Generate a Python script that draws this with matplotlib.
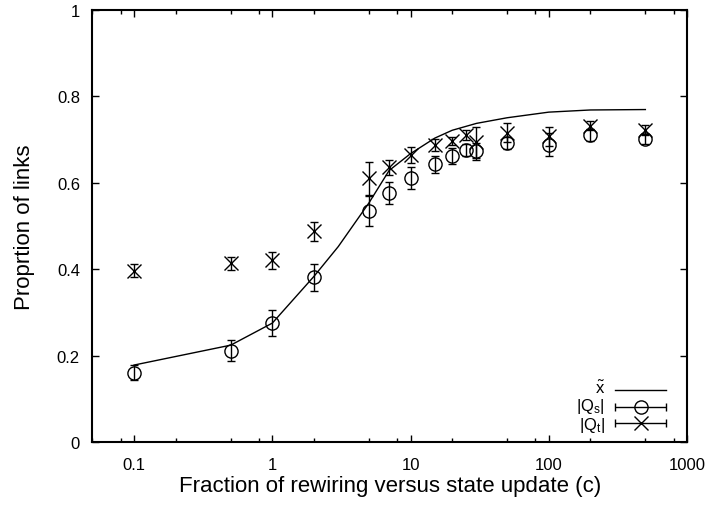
import numpy as np
import matplotlib
matplotlib.use('Agg')
import matplotlib.pyplot as plt
from matplotlib.ticker import LogLocator, FixedLocator, FixedFormatter, NullFormatter

plt.rcParams['font.family'] = ['Liberation Sans', 'DejaVu Sans']
plt.rcParams['mathtext.fontset'] = 'custom'
plt.rcParams['mathtext.rm'] = 'Liberation Sans'
plt.rcParams['mathtext.it'] = 'Liberation Sans'
plt.rcParams['mathtext.default'] = 'regular'

### data ###
c_points = [0.1, 0.5, 1, 2, 5, 7, 10, 15, 20, 25, 30, 50, 100, 200, 500]
q_s = [0.160, 0.211, 0.275, 0.381, 0.535, 0.576, 0.611, 0.642, 0.661, 0.675, 0.672, 0.692, 0.688, 0.710, 0.701]
q_s_err = [0.017, 0.024, 0.030, 0.031, 0.035, 0.026, 0.025, 0.020, 0.019, 0.014, 0.020, 0.014, 0.026, 0.013, 0.012]
q_t = [0.396, 0.413, 0.420, 0.487, 0.610, 0.635, 0.664, 0.687, 0.697, 0.710, 0.693, 0.715, 0.707, 0.732, 0.722]
q_t_err = [0.015, 0.016, 0.020, 0.022, 0.038, 0.017, 0.019, 0.014, 0.009, 0.012, 0.036, 0.022, 0.022, 0.011, 0.012]

c_line = [0.1, 0.5, 1, 2, 3, 5, 7, 10, 15, 20, 30, 50, 100, 200, 500]
x_tilde = [0.178, 0.224, 0.275, 0.383, 0.452, 0.553, 0.628, 0.667, 0.703, 0.721, 0.737, 0.750, 0.763, 0.768, 0.769]

x_ticks = [0.1, 1, 10, 100, 1000]
x_tick_labels = ['0.1', '1', '10', '100', '1000']
y_ticks = [0, 0.2, 0.4, 0.6, 0.8, 1]
y_tick_labels = ['0', '0.2', '0.4', '0.6', '0.8', '1']

fig = plt.figure(figsize=(7.13, 5.06), dpi=100)
ax = fig.add_axes([0.1297, 0.1245, 0.9635 - 0.1297, 0.9789 - 0.1245])

lw = 1.0
ax.plot(c_line, x_tilde, color='black', lw=lw)
ax.errorbar(c_points, q_s, yerr=q_s_err, fmt='o', mfc='none', mec='black', ms=9.5, mew=lw,
            ecolor='black', elinewidth=lw, capsize=3, capthick=lw)
ax.errorbar(c_points, q_t, yerr=q_t_err, fmt='x', color='black', ms=9.5, mew=lw,
            ecolor='black', elinewidth=lw, capsize=3, capthick=lw)

ax.set_xscale('log')
ax.set_xlim(0.05, 1000)
ax.set_ylim(0, 1)
ax.xaxis.set_major_locator(FixedLocator(x_ticks))
ax.xaxis.set_major_formatter(FixedFormatter(x_tick_labels))
ax.xaxis.set_minor_locator(LogLocator(base=10, subs=[2, 5, 8]))
ax.xaxis.set_minor_formatter(NullFormatter())
ax.yaxis.set_major_locator(FixedLocator(y_ticks))
ax.yaxis.set_major_formatter(FixedFormatter(y_tick_labels))

ax.tick_params(which='both', direction='in', top=True, right=True, width=1.0, labelsize=12)
ax.tick_params(which='major', length=5)
ax.tick_params(which='minor', length=3)
ax.tick_params(axis='x', which='major', pad=11)
ax.tick_params(axis='y', which='major', pad=9)
for s in ax.spines.values():
    s.set_linewidth(1.5)

ax.set_xlabel('Fraction of rewiring versus state update (c)', fontsize=16, labelpad=2)
ax.set_ylabel('Proprtion of links', fontsize=16, labelpad=16)

### key, gnuplot style (label right-aligned, sample to the right) ###
key_rows = [(0.123, 0.127, r'$\tilde{x}$'), (0.0803, 0.084, r'$|Q_s|$'), (0.0433, 0.040, r'$|Q_t|$')]
sx0, sx1, sxc = 0.879, 0.965, 0.922
for i, (yk, yt, lab) in enumerate(key_rows):
    ax.text(0.862, yt, lab, transform=ax.transAxes, ha='right', va='center', fontsize=12)
    if i == 0:
        ax.plot([sx0, sx1], [yk - 0.002, yk - 0.002], transform=ax.transAxes, color='black', lw=lw)
    else:
        ax.errorbar([sxc], [yk], xerr=[(sx1 - sx0) / 2], transform=ax.transAxes,
                    fmt='o' if i == 1 else 'x', mfc='none', mec='black', color='black',
                    ms=9.5, mew=lw, ecolor='black', elinewidth=lw, capsize=3, capthick=lw)

fig.savefig('out.png', dpi=100)
